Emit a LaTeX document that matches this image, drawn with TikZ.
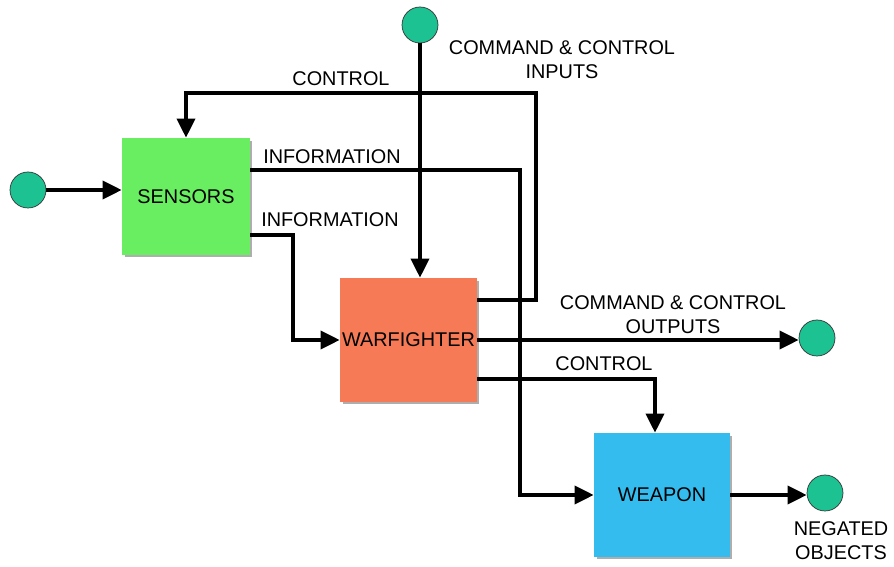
\documentclass[tikz,border=0pt]{standalone}
\usepackage{fontspec}
\setmainfont{Liberation Sans}
\usetikzlibrary{arrows.meta,shadows}
\definecolor{sensgreen}{RGB}{104,238,96}
\definecolor{warorange}{RGB}{245,122,85}
\definecolor{weapblue}{RGB}{52,188,238}
\definecolor{portgreen}{RGB}{28,194,146}
\tikzset{
	wire/.style={line width=0.07cm},
	flow/.style={line width=0.07cm, -{Triangle[length=0.38cm,width=0.36cm]}},
	block/.style={inner sep=0pt, font=\fontsize{11.3}{13.6}\selectfont,
		drop shadow={shadow xshift=0.05cm, shadow yshift=-0.05cm, fill=black!45, opacity=0.7}},
	port/.style={circle, draw=black!80, line width=0.4pt, fill=portgreen, minimum size=0.72cm, inner sep=0pt},
	lbl/.style={inner sep=0pt, align=center, font=\fontsize{11.3}{13.6}\selectfont}
}

\begin{document}
\begin{tikzpicture}[x=0.02cm, y=-0.02cm]
			%%%%% START %%%%%
			\useasboundingbox (0,0) rectangle (894,567);
			
			\node[block, fill=sensgreen, minimum width=2.56cm, minimum height=2.34cm] (sensors) at (186,196.5) {SENSORS};
			\node[block, fill=warorange, minimum width=2.74cm, minimum height=2.48cm] (warfighter) at (408.5,340) {WARFIGHTER};
			\node[block, fill=weapblue, minimum width=2.72cm, minimum height=2.48cm] (weapon) at (662,495) {WEAPON};
			
			\node[port] (inport) at (28,190) {};
			\node[port] (ccin) at (420,25) {};
			\node[port] (ccout) at (817,338) {};
			\node[port] (negated) at (825,493) {};
			
			\node[lbl] (lcontrol) at (341,79) {CONTROL};
			\node[lbl] (lccin) at (562,60) {COMMAND \& CONTROL\\INPUTS};
			\node[lbl] (linfoa) at (332,157) {INFORMATION};
			\node[lbl] (linfob) at (330,220) {INFORMATION};
			\node[lbl] (lccout) at (673,315) {COMMAND \& CONTROL\\OUTPUTS};
			\node[lbl] (lcontrolb) at (604,364) {CONTROL};
			\node[lbl] (lnegated) at (841,541) {NEGATED\\OBJECTS};
			
			% inputs
			\draw[flow] (inport.east) -- (inport.east -| sensors.west);
			\draw[flow] (ccin) -- (ccin |- warfighter.north);
			
			% warfighter back to sensors
			\draw[flow] (warfighter.east |- 0,300) -- (536,300) -- (536,93) -| (sensors.north);
			
			% information
			\draw[flow] (sensors.east |- 0,170) -- (520,170) |- (weapon.west);
			\draw[flow] (sensors.east |- 0,235) -- (293,235) |- (warfighter.west);
			
			% outputs
			\draw[flow] (warfighter.east) -- (warfighter.east -| ccout.west);
			\draw[flow] (warfighter.east |- 0,379) -| (weapon.north -| 655,0);
			\draw[flow] (weapon.east) -- (weapon.east -| negated.west);
			
			%%%%% END %%%%%
\end{tikzpicture}
\end{document}
